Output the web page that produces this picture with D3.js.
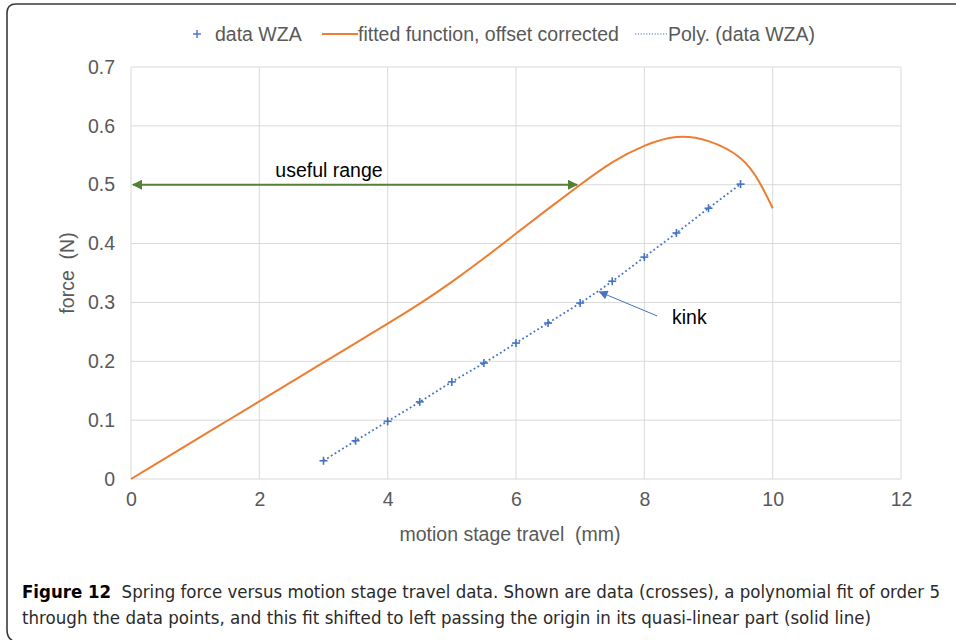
<!DOCTYPE html>
<html>
<head>
<meta charset="utf-8">
<script src="https://cdn.jsdelivr.net/npm/d3@7"></script>
<style>
  body { margin: 0; background: #fff; }
  svg { display: block; }
</style>
</head>
<body>
<svg id="chart" width="956" height="640"></svg>
<script>
// measured points (data WZA)
const dataX = [3, 3.5, 4, 4.5, 5, 5.5, 6, 6.5, 7, 7.5, 8, 8.5, 9, 9.5];
const dataY = [0.031, 0.065, 0.098, 0.131, 0.165, 0.197, 0.231, 0.265, 0.299, 0.336, 0.377, 0.418, 0.460, 0.501];

// fitted function, offset corrected
const fitX = [0, 0.5, 1, 1.5, 2, 2.5, 3, 3.5, 4, 4.5, 5, 5.5, 6, 6.5, 7, 7.5, 8, 8.5, 9, 9.5, 9.8, 10];
const fitY = [0, 0.033, 0.066, 0.099, 0.132, 0.165, 0.198, 0.231, 0.264, 0.298, 0.335, 0.375, 0.417, 0.459, 0.500, 0.538, 0.566, 0.581, 0.574, 0.545, 0.503, 0.460];

const xTicks = [0, 2, 4, 6, 8, 10, 12];
const yTicks = [0, 0.1, 0.2, 0.3, 0.4, 0.5, 0.6, 0.7];

const usefulRange = [0, 6.95];
const usefulLevel = 0.5;
const kinkFrom = [8.2, 0.277];
const kinkTo = [7.3, 0.318];

const width = 956, height = 640;
const margin = {top: 67, right: 55, bottom: 161, left: 131};
const font = "Liberation Sans, Arial, sans-serif";
const fs = 19.5;

const blue = "#4472c4", orange = "#ed7d31", green = "#548235", grey = "#595959";

const svg = d3.select("#chart");

const defs = svg.append("defs");
defs.append("marker")
    .attr("id", "arrGreen")
    .attr("viewBox", "0 0 10 10")
    .attr("refX", 9).attr("refY", 5)
    .attr("markerWidth", 5).attr("markerHeight", 5)
    .attr("orient", "auto-start-reverse")
    .append("path")
    .attr("d", "M0,0 L10,5 L0,10 z")
    .attr("fill", green);
defs.append("marker")
    .attr("id", "arrBlue")
    .attr("viewBox", "0 0 10 10")
    .attr("refX", 9).attr("refY", 5)
    .attr("markerWidth", 10).attr("markerHeight", 9)
    .attr("orient", "auto")
    .attr("markerUnits", "userSpaceOnUse")
    .append("path")
    .attr("d", "M0,0 L10,5 L0,10 z")
    .attr("fill", blue);

// frame
svg.append("path")
    .attr("d", "M956,4 H16 Q7,4 7,13 V630 Q7,638 13,641")
    .attr("fill", "none")
    .attr("stroke", "#3a3a3a")
    .attr("stroke-width", 1.6);

const x = d3.scaleLinear().domain([0, 12]).range([margin.left, width - margin.right]);
const y = d3.scaleLinear().domain([0, 0.7]).range([height - margin.bottom, margin.top]);

// grid
svg.append("g")
    .selectAll("line")
    .data(xTicks)
    .join("line")
    .attr("x1", d => x(d)).attr("x2", d => x(d))
    .attr("y1", y(0)).attr("y2", y(0.7))
    .attr("stroke", "#d9d9d9").attr("stroke-width", 1);
svg.append("g")
    .selectAll("line")
    .data(yTicks)
    .join("line")
    .attr("x1", x(0)).attr("x2", x(12))
    .attr("y1", d => y(d)).attr("y2", d => y(d))
    .attr("stroke", "#d9d9d9").attr("stroke-width", 1);

// axes
const xAxis = svg.append("g")
    .attr("transform", `translate(0,${y(0)})`)
    .call(d3.axisBottom(x).tickValues(xTicks).tickSize(0).tickPadding(13).tickFormat(d3.format("d")));
xAxis.select(".domain").remove();
const yAxis = svg.append("g")
    .attr("transform", `translate(${x(0)},0)`)
    .call(d3.axisLeft(y).tickValues(yTicks).tickSize(0).tickPadding(16).tickFormat(d => d === 0 ? "0" : d3.format(".1f")(d)));
yAxis.select(".domain").remove();
svg.selectAll(".tick text")
    .attr("font-family", font)
    .attr("font-size", fs)
    .attr("fill", grey);

// axis titles
svg.append("text")
    .attr("x", 510).attr("y", 541)
    .attr("text-anchor", "middle")
    .attr("font-family", font)
    .attr("font-size", fs).attr("fill", grey)
    .attr("xml:space", "preserve")
    .text("motion stage travel  (mm)");
svg.append("text")
    .attr("transform", `translate(74,${(y(0) + y(0.7)) / 2}) rotate(-90)`)
    .attr("text-anchor", "middle")
    .attr("font-family", font)
    .attr("font-size", fs).attr("fill", grey)
    .attr("xml:space", "preserve")
    .text("force  (N)");

// fitted function
const fit = fitX.map((v, i) => ({x: v, y: fitY[i]}));
svg.append("path")
    .datum(fit)
    .attr("fill", "none")
    .attr("stroke", orange)
    .attr("stroke-width", 2)
    .attr("d", d3.line().curve(d3.curveNatural).x(d => x(d.x)).y(d => y(d.y)));

// poly trendline through data
const pts = dataX.map((v, i) => ({x: v, y: dataY[i]}));
svg.append("path")
    .datum(pts)
    .attr("fill", "none")
    .attr("stroke", blue)
    .attr("stroke-width", 1.8)
    .attr("stroke-dasharray", "1.8,2.6")
    .attr("d", d3.line().curve(d3.curveNatural).x(d => x(d.x)).y(d => y(d.y)));

// crosses
const cross = svg.append("g")
    .attr("stroke", blue).attr("stroke-width", 1.6)
    .selectAll("g")
    .data(pts)
    .join("g")
    .attr("transform", d => `translate(${x(d.x)},${y(d.y)})`);
cross.append("line").attr("x1", -4).attr("x2", 4);
cross.append("line").attr("y1", -4).attr("y2", 4);

// useful range
svg.append("line")
    .attr("x1", x(usefulRange[0]) + 2).attr("x2", x(usefulRange[1]))
    .attr("y1", y(usefulLevel)).attr("y2", y(usefulLevel))
    .attr("stroke", green).attr("stroke-width", 2)
    .attr("marker-start", "url(#arrGreen)")
    .attr("marker-end", "url(#arrGreen)");
svg.append("text")
    .attr("x", 329).attr("y", 177)
    .attr("text-anchor", "middle")
    .attr("font-family", font)
    .attr("font-size", fs).attr("fill", "#000")
    .text("useful range");

// kink
svg.append("line")
    .attr("x1", x(kinkFrom[0])).attr("y1", y(kinkFrom[1]))
    .attr("x2", x(kinkTo[0])).attr("y2", y(kinkTo[1]))
    .attr("stroke", blue).attr("stroke-width", 1)
    .attr("marker-end", "url(#arrBlue)");
svg.append("text")
    .attr("x", 672).attr("y", 324)
    .attr("font-family", font)
    .attr("font-size", fs).attr("fill", "#000")
    .text("kink");

// legend
const lg = svg.append("g")
    .attr("font-family", font)
    .attr("font-size", fs).attr("fill", grey);
const ly = 34;
lg.append("line").attr("x1", 193).attr("x2", 201).attr("y1", ly).attr("y2", ly).attr("stroke", blue).attr("stroke-width", 1.4);
lg.append("line").attr("x1", 197).attr("x2", 197).attr("y1", ly - 4).attr("y2", ly + 4).attr("stroke", blue).attr("stroke-width", 1.4);
lg.append("text").attr("x", 215).attr("y", ly + 7).text("data WZA");
lg.append("line").attr("x1", 322).attr("x2", 358).attr("y1", ly).attr("y2", ly).attr("stroke", orange).attr("stroke-width", 2);
lg.append("text").attr("x", 358).attr("y", ly + 7).text("fitted function, offset corrected");
lg.append("line").attr("x1", 635).attr("x2", 668).attr("y1", ly).attr("y2", ly).attr("stroke", blue).attr("stroke-width", 1.2).attr("stroke-dasharray", "1.2,1.6");
lg.append("text").attr("x", 668).attr("y", ly + 7).text("Poly. (data WZA)");

// caption
const cap = svg.append("g")
    .attr("font-family", "Liberation Sans Narrow, DejaVu Sans Condensed, sans-serif")
    .attr("font-size", 17.5).attr("fill", "#2a2a2a");
const l1 = cap.append("text").attr("x", 22).attr("y", 598).attr("textLength", 918).attr("lengthAdjust", "spacingAndGlyphs");
l1.append("tspan").attr("font-weight", "bold").attr("fill", "#000").text("Figure 12");
l1.append("tspan").attr("xml:space", "preserve").text("  Spring force versus motion stage travel data. Shown are data (crosses), a polynomial fit of order 5");
cap.append("text").attr("x", 22).attr("y", 624).attr("textLength", 849).attr("lengthAdjust", "spacingAndGlyphs")
    .text("through the data points, and this fit shifted to left passing the origin in its quasi-linear part (solid line)");
</script>
</body>
</html>
